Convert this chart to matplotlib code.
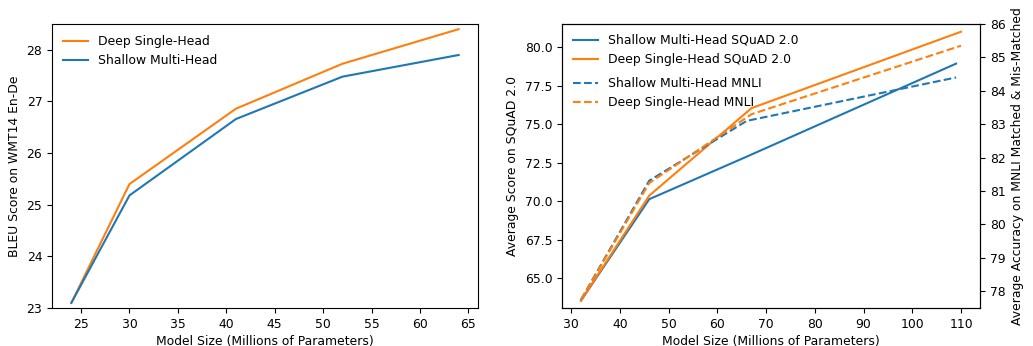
import matplotlib
matplotlib.use("Agg")
import matplotlib.pyplot as plt

# Left panel: WMT14 En-De
wmt_sizes = [24, 30, 41, 52, 64]
wmt_deep_single = [23.1, 25.40, 26.86, 27.73, 28.40]
wmt_shallow_multi = [23.1, 25.18, 26.66, 27.48, 27.90]

# Right panel: SQuAD 2.0 (left axis) and MNLI (right axis)
shallow_sizes = [32, 46, 66, 109]
deep_sizes = [32, 46, 67, 110]
squad_shallow_multi = [63.55, 70.13, 72.89, 78.93]
squad_deep_single = [63.55, 70.36, 76.04, 81.0]
mnli_shallow_multi = [77.75, 81.31, 83.10, 84.40]
mnli_deep_single = [77.75, 81.24, 83.30, 85.35]

blue = "#1f77b4"
orange = "#ff7f0e"

plt.rcParams['font.size'] = 8.9
fig = plt.figure(figsize=(10.33, 3.46), dpi=100)

ax1 = fig.add_axes([52/1033, 1-308/346, 426/1033, 284/346])
ax1.plot(wmt_sizes, wmt_deep_single, color=orange, lw=1.5, label="Deep Single-Head")
ax1.plot(wmt_sizes, wmt_shallow_multi, color=blue, lw=1.5, label="Shallow Multi-Head")
ax1.set_ylim(23, 28.5)
ax1.set_xlabel("Model Size (Millions of Parameters)", labelpad=3)
ax1.set_ylabel("BLEU Score on WMT14 En-De")
ax1.legend(loc="upper left", frameon=False)

ax2 = fig.add_axes([562/1033, 1-308/346, 418/1033, 284/346])
ax3 = ax2.twinx()
l1, = ax2.plot(shallow_sizes, squad_shallow_multi, color=blue, lw=1.5, label="Shallow Multi-Head SQuAD 2.0")
l2, = ax2.plot(deep_sizes, squad_deep_single, color=orange, lw=1.5, label="Deep Single-Head SQuAD 2.0")
l3, = ax3.plot(shallow_sizes, mnli_shallow_multi, color=blue, lw=1.5, ls="--", label="Shallow Multi-Head MNLI")
l4, = ax3.plot(deep_sizes, mnli_deep_single, color=orange, lw=1.5, ls="--", label="Deep Single-Head MNLI")
ax2.set_ylim(63.07, 81.5)
ax3.set_ylim(77.5, 86)
ax2.set_xlabel("Model Size (Millions of Parameters)", labelpad=3)
ax2.set_ylabel("Average Score on SQuAD 2.0")
ax3.set_ylabel("Average Accuracy on MNLI Matched & Mis-Matched")
leg1 = ax3.legend(handles=[l1, l2], loc="upper left", frameon=False,
                  bbox_to_anchor=(0, 1.004))
ax3.add_artist(leg1)
ax3.legend(handles=[l3, l4], loc="upper left", frameon=False,
           bbox_to_anchor=(0, 0.853))

fig.savefig("out.png", dpi=100)
